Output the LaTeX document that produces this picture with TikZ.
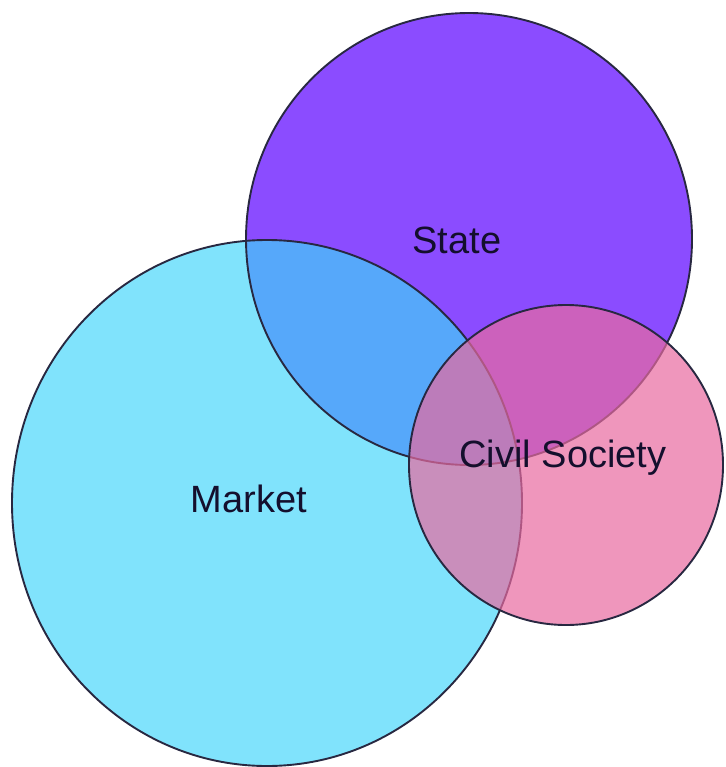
\documentclass[tikz,border=0pt]{standalone}
\usepackage{fontspec}
\setmainfont{Liberation Sans}
\usepackage{tikz}

\definecolor{statefill}{RGB}{139,76,255}
\definecolor{marketfill}{RGB}{128,227,252}
\definecolor{civilfill}{RGB}{232,106,160}
\definecolor{bothfill}{RGB}{86,168,250}
\definecolor{rim}{RGB}{40,40,65}
\definecolor{ink}{RGB}{20,15,45}

\tikzset{rimline/.style={draw=rim,line width=1.9pt}}

\begin{document}
\begin{tikzpicture}
	 [x=1pt,y=-1pt,every node/.style={font=\fontsize{38}{40}\selectfont,text=ink,inner sep=0pt,anchor=base}]
	  \useasboundingbox (0,0) rectangle (725,767);

	  \coordinate (cs) at (469,239);
	  \coordinate (cm) at (267,503);
	  \coordinate (cc) at (566,465);

	  \fill[statefill] (cs) ellipse [x radius=223,y radius=226];
	  \fill[marketfill] (cm) ellipse [x radius=255,y radius=263];
	  \begin{scope}
	    \clip (cs) ellipse [x radius=223,y radius=226];
	    \fill[bothfill] (cm) ellipse [x radius=255,y radius=263];
	  \end{scope}
	  \draw[rimline] (cs) ellipse [x radius=223,y radius=226];
	  \draw[rimline] (cm) ellipse [x radius=255,y radius=263];

	  \fill[civilfill,fill opacity=.7] (cc) ellipse [x radius=157,y radius=160];
	  \draw[rimline] (cc) ellipse [x radius=157,y radius=160];

	  \node (state) at (457,253) {State};
	  \node (market) at (249,512) {Market};
	  \node (civil) at (563,467) {Civil Society};

\end{tikzpicture}
\end{document}
